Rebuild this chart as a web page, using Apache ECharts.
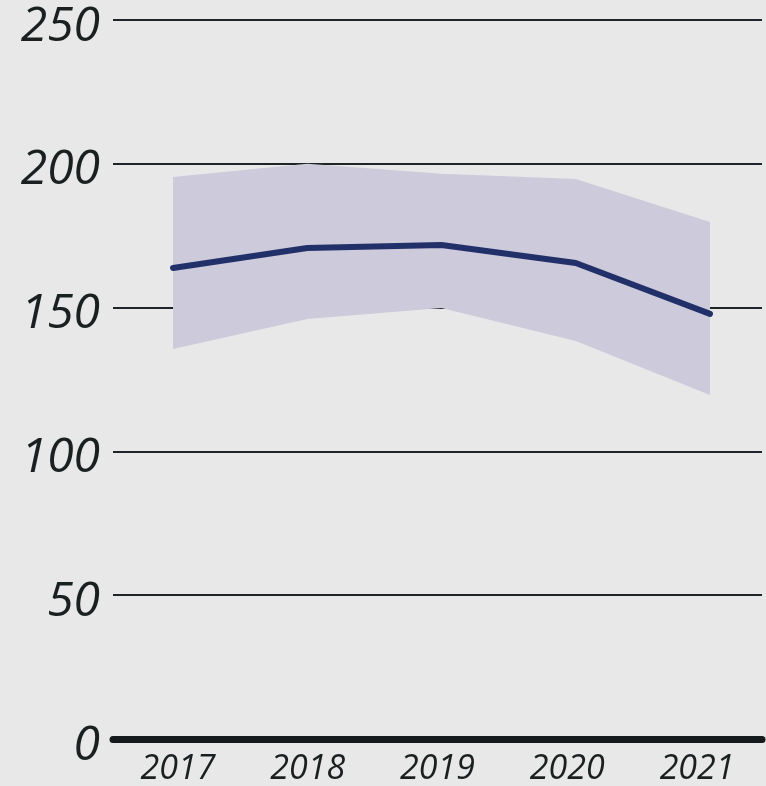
<!DOCTYPE html>
<html>
<head>
<meta charset="utf-8">
<script src="https://cdn.jsdelivr.net/npm/echarts@6/dist/echarts.min.js"></script>
<style>
  html, body { margin: 0; padding: 0; background: #e8e8e8; }
  #chart { width: 766px; height: 786px; }
</style>
</head>
<body>
<div id="chart"></div>
<script>
// data
const years = ["2017", "2018", "2019", "2020", "2021"];
const mid = [163.8, 170.7, 171.8, 165.5, 147.8];
const upper = [195.4, 200.0, 196.5, 194.7, 179.8];
const lower = [135.6, 146.0, 149.9, 138.4, 119.6];

const band = upper.map((u, i) => +(u - lower[i]).toFixed(1));

const myChart = echarts.init(document.getElementById("chart"));
const font = "'Open Sans', 'Noto Sans', sans-serif";

const option = {
  backgroundColor: "#e8e8e8",
  animation: false,
  grid: [
    // axes, grid lines and year labels
    { left: 113, right: 4, top: 20, bottom: 47 },
    // data area (points from 2017 to 2021)
    { left: 173, right: 56, top: 20, bottom: 47 }
  ],
  xAxis: [
    {
      gridIndex: 0,
      type: "category",
      data: years,
      boundaryGap: true,
      axisLine: { show: true, lineStyle: { color: "#151b1c", width: 7 } },
      axisTick: { show: false },
      axisLabel: {
        color: "#1a2020",
        fontFamily: font,
        fontStyle: "italic",
        fontSize: 34,
        margin: 13
      }
    },
    {
      gridIndex: 1,
      type: "category",
      data: years,
      boundaryGap: false,
      axisLine: { show: false },
      axisTick: { show: false },
      axisLabel: { show: false }
    }
  ],
  yAxis: [
    {
      gridIndex: 0,
      type: "value",
      min: 0,
      max: 250,
      interval: 50,
      axisLine: { show: false },
      axisTick: { show: false },
      splitLine: { lineStyle: { color: "#1f2526", width: 2 } },
      axisLabel: {
        margin: 13,
        formatter: "{t|{value}}",
        rich: {
          t: {
            color: "#1a2020",
            fontFamily: font,
            fontStyle: "italic",
            fontSize: 48,
            padding: [14, 0, 0, 0]
          }
        }
      }
    },
    {
      gridIndex: 1,
      type: "value",
      min: 0,
      max: 250,
      interval: 50,
      axisLine: { show: false },
      axisTick: { show: false },
      splitLine: { show: false },
      axisLabel: { show: false }
    }
  ],
  series: [
    {
      type: "line",
      xAxisIndex: 1,
      yAxisIndex: 1,
      data: lower,
      stack: "band",
      symbol: "none",
      lineStyle: { opacity: 0 },
      areaStyle: { opacity: 0 }
    },
    {
      type: "line",
      xAxisIndex: 1,
      yAxisIndex: 1,
      data: band,
      stack: "band",
      symbol: "none",
      lineStyle: { opacity: 0 },
      areaStyle: { color: "#cdcadb", opacity: 1 }
    },
    {
      type: "line",
      xAxisIndex: 1,
      yAxisIndex: 1,
      data: mid,
      symbol: "none",
      lineStyle: { color: "#22306a", width: 6, cap: "round", join: "round" },
      z: 5
    }
  ]
};

myChart.setOption(option);
</script>
</body>
</html>
